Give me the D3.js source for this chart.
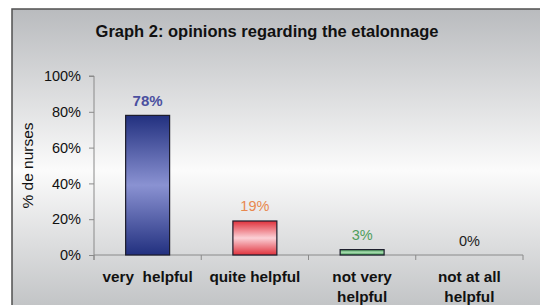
<!DOCTYPE html>
<html>
<head>
<meta charset="utf-8">
<script src="https://cdn.jsdelivr.net/npm/d3@7"></script>
<style>
  body { margin: 0; background: #fff; }
  svg { display: block; font-family: 'Liberation Sans', Arial, sans-serif; }
</style>
</head>
<body>
<div id="root"></div>
<script>
const categories = ['very  helpful', 'quite helpful', 'not very\nhelpful', 'not at all\nhelpful'];
const values = [78, 19, 3, 0];
const yTicks = [0, 20, 40, 60, 80, 100];
const labelColors = ['#4b50a0', '#e8884e', '#4f9e5c', '#222'];

const W = 540, H = 305;
const margin = { left: 94, right: 17, top: 76, bottom: 50 };
const height = H - margin.top - margin.bottom;
const width = W - margin.left - margin.right;

const svg = d3.select('#root').append('svg')
  .attr('width', W)
  .attr('height', H);

const defs = svg.append('defs');

// chart area background
const bg = defs.append('linearGradient').attr('id', 'bg')
  .attr('x1', 0).attr('y1', 0).attr('x2', 0).attr('y2', 1);
bg.append('stop').attr('offset', '0%').attr('stop-color', '#b9bbbe');
bg.append('stop').attr('offset', '53%').attr('stop-color', '#fbfbfb');
bg.append('stop').attr('offset', '100%').attr('stop-color', '#bfc1c3');

// bar gradients: dark edges, light centre
const barFills = [
  ['#22307f', '#8a92d2'],
  ['#e0323c', '#fbd0d6'],
  ['#3f9a52', '#a8dcb0'],
  ['#888', '#ccc']
];
barFills.forEach((c, i) => {
  const g = defs.append('linearGradient').attr('id', 'bar' + i)
    .attr('x1', 0).attr('y1', 0).attr('x2', 0).attr('y2', 1);
  g.append('stop').attr('offset', '0%').attr('stop-color', c[0]);
  g.append('stop').attr('offset', '50%').attr('stop-color', c[1]);
  g.append('stop').attr('offset', '100%').attr('stop-color', c[0]);
});

svg.append('rect')
  .attr('x', 12).attr('y', 9)
  .attr('width', W).attr('height', H)
  .attr('fill', 'url(#bg)')
  .attr('stroke', '#505050')
  .attr('stroke-width', 1.5);

// title
svg.append('text')
  .attr('x', 267)
  .attr('y', 37)
  .attr('text-anchor', 'middle')
  .attr('font-size', '16.5px')
  .attr('font-weight', 'bold')
  .attr('fill', '#111')
  .text('Graph 2: opinions regarding the etalonnage');

const g = svg.append('g')
  .attr('transform', `translate(${margin.left}, ${margin.top})`);

const y = d3.scaleLinear()
  .domain([0, 100])
  .range([height, 0]);

const x = d3.scaleBand()
  .domain(categories)
  .range([0, width])
  .paddingInner(0.59)
  .paddingOuter(0.295);

// y axis
const yAxis = d3.axisLeft(y)
  .tickValues(yTicks)
  .tickSize(5)
  .tickPadding(8)
  .tickFormat(d => d + '%');

const ya = g.append('g').call(yAxis);
ya.select('.domain').attr('d', `M-5,0H0V${height + 5}`);

// x axis with ticks at category boundaries
const xa = g.append('g')
  .attr('transform', `translate(0, ${height})`);
xa.append('line')
  .attr('x1', 0).attr('x2', width)
  .attr('stroke', '#8a8a8a');
xa.selectAll('.xt').data(d3.range(categories.length + 1))
  .enter().append('line')
    .attr('class', 'xt')
    .attr('x1', i => i * x.step())
    .attr('x2', i => i * x.step())
    .attr('y1', 0).attr('y2', 5)
    .attr('stroke', '#8a8a8a');

ya.selectAll('line, path').attr('stroke', '#8a8a8a');
ya.selectAll('text')
  .attr('font-size', '14.5px')
  .attr('font-family', "'Liberation Sans', Arial, sans-serif")
  .attr('fill', '#111');

// category labels
const cl = xa.selectAll('.cat').data(categories)
  .enter().append('text')
    .attr('class', 'cat')
    .attr('text-anchor', 'middle')
    .attr('font-size', '15.3px')
    .attr('font-weight', 'bold')
    .attr('fill', '#111')
    .attr('xml:space', 'preserve');
cl.each(function (d) {
  const t = d3.select(this);
  d.split('\n').forEach((line, j) => {
    t.append('tspan')
      .attr('x', x(d) + x.bandwidth() / 2)
      .attr('y', 27 + j * 19.5)
      .text(line);
  });
});

// y axis title
g.append('text')
  .attr('transform', `translate(${33 - margin.left}, ${y(50)}) rotate(-90)`)
  .attr('text-anchor', 'middle')
  .attr('font-size', '15.5px')
  .attr('fill', '#111')
  .text('% de nurses');

// bars
const data = categories.map((c, i) => ({ c, v: values[i], i }));

g.append('g').selectAll('rect').data(data.filter(d => d.v > 0))
  .enter().append('rect')
    .attr('x', d => x(d.c))
    .attr('y', d => y(d.v))
    .attr('width', x.bandwidth())
    .attr('height', d => height - y(d.v))
    .attr('fill', d => `url(#bar${d.i})`)
    .attr('stroke', '#1c1c2c')
    .attr('stroke-width', 1.2);

// value labels
g.append('g').selectAll('text').data(data)
  .enter().append('text')
    .attr('x', d => x(d.c) + x.bandwidth() / 2)
    .attr('y', d => y(d.v) - 9.5)
    .attr('text-anchor', 'middle')
    .attr('font-size', d => d.i === 0 ? '15px' : '14.5px')
    .attr('font-weight', d => d.i === 0 ? 'bold' : 'normal')
    .attr('fill', d => labelColors[d.i])
    .text(d => d.v + '%');
</script>
</body>
</html>
